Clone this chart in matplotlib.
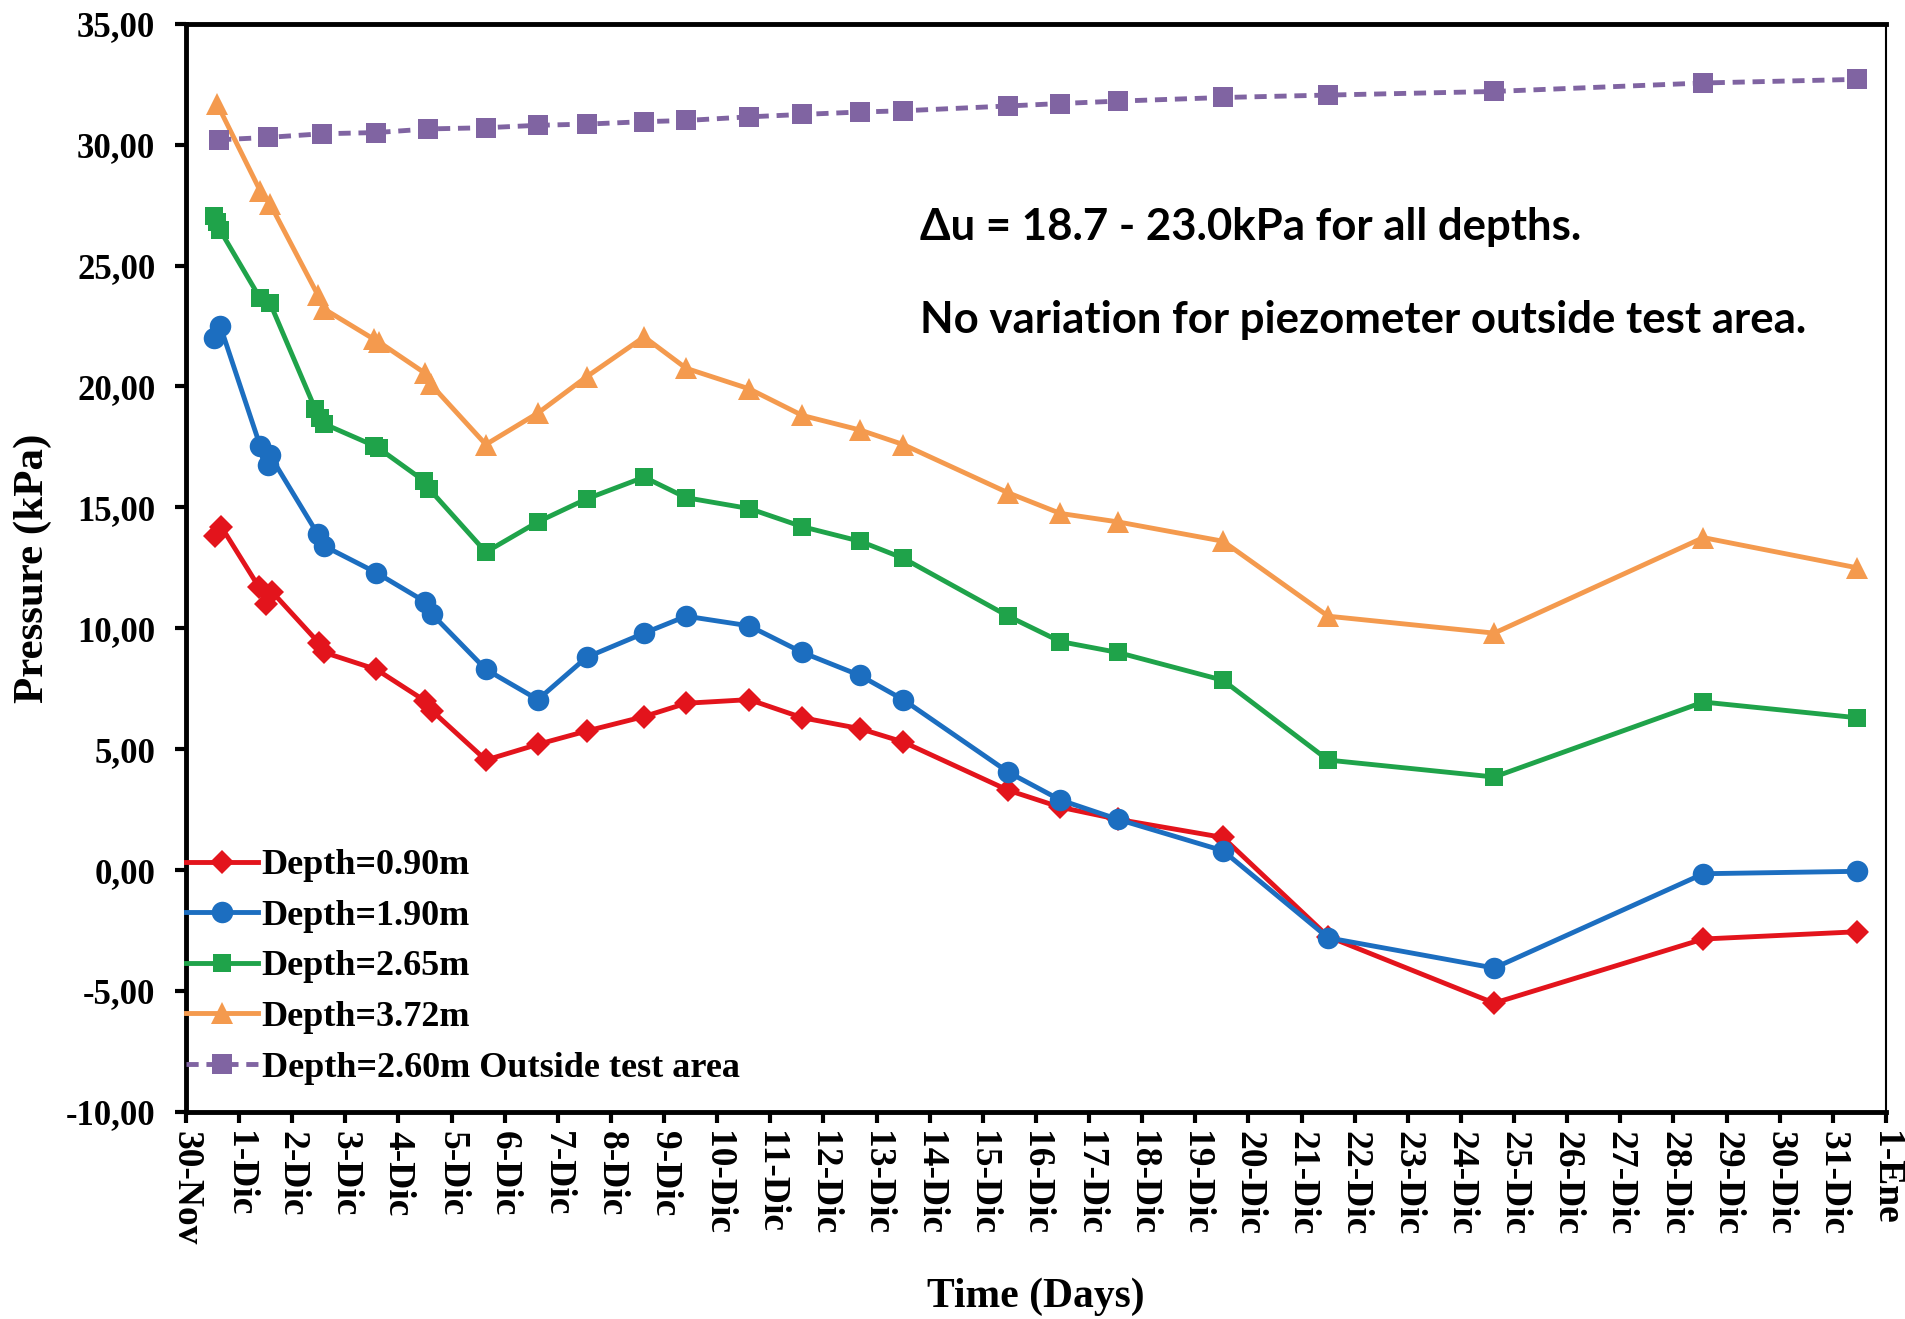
import pandas as pd
import matplotlib
matplotlib.use('Agg')
import matplotlib.pyplot as plt
import matplotlib.dates as md
from matplotlib.ticker import FuncFormatter

# Lecturas comunes a todos los piezometros a partir del 5-Dic
t_cola = ['2013-12-05 15:30', '2013-12-06 15:00', '2013-12-07 13:00', '2013-12-08 15:00',
          '2013-12-09 10:00', '2013-12-10 14:30', '2013-12-11 14:30', '2013-12-12 16:30',
          '2013-12-13 12:00', '2013-12-15 11:30', '2013-12-16 11:00', '2013-12-17 13:00',
          '2013-12-19 12:30', '2013-12-21 12:00', '2013-12-24 15:00', '2013-12-28 13:30',
          '2013-12-31 11:00']

t_090 = ['2013-11-30 13:00', '2013-11-30 16:00', '2013-12-01 09:00', '2013-12-01 12:00',
         '2013-12-01 15:00', '2013-12-02 12:00', '2013-12-02 14:30', '2013-12-03 14:00',
         '2013-12-04 12:00', '2013-12-04 15:00'] + t_cola
p_090 = [13.83, 14.2, 11.7, 11.0, 11.5, 9.4, 9.0, 8.3, 7.0, 6.6,
         4.55, 5.2, 5.75, 6.35, 6.9, 7.05, 6.3, 5.85, 5.3, 3.3, 2.6, 2.1, 1.35, -2.75, -5.5, -2.85, -2.55]

t_190 = ['2013-11-30 12:30', '2013-11-30 15:30', '2013-12-01 09:30', '2013-12-01 13:00',
         '2013-12-01 14:00', '2013-12-02 11:30', '2013-12-02 14:30', '2013-12-03 14:00',
         '2013-12-04 12:00', '2013-12-04 15:00'] + t_cola
p_190 = [22.0, 22.5, 17.55, 16.75, 17.15, 13.9, 13.4, 12.3, 11.1, 10.6,
         8.3, 7.05, 8.8, 9.8, 10.5, 10.1, 9.0, 8.05, 7.05, 4.05, 2.9, 2.1, 0.8, -2.8, -4.05, -0.15, -0.05]

t_265 = ['2013-11-30 12:30', '2013-11-30 14:00', '2013-11-30 15:30', '2013-12-01 09:30',
         '2013-12-01 14:00', '2013-12-02 10:30', '2013-12-02 12:30', '2013-12-02 14:30',
         '2013-12-03 13:00', '2013-12-03 15:00', '2013-12-04 11:30', '2013-12-04 14:00'] + t_cola
p_265 = [27.05, 26.8, 26.45, 23.65, 23.45, 19.05, 18.7, 18.45, 17.55, 17.45, 16.1, 15.75,
         13.15, 14.4, 15.35, 16.25, 15.4, 14.95, 14.2, 13.6, 12.9, 10.5, 9.45, 9.0, 7.85, 4.55, 3.85, 6.95, 6.3]

t_372 = ['2013-11-30 14:00', '2013-12-01 09:30', '2013-12-01 14:00', '2013-12-02 11:30',
         '2013-12-02 14:30', '2013-12-03 13:00', '2013-12-03 15:00', '2013-12-04 12:00',
         '2013-12-04 14:30'] + t_cola
p_372 = [31.7, 28.1, 27.55, 23.8, 23.2, 21.95, 21.85, 20.55, 20.1,
         17.6, 18.9, 20.4, 22.05, 20.75, 19.9, 18.8, 18.2, 17.6, 15.6, 14.75, 14.4, 13.6, 10.5, 9.8, 13.75, 12.5]

# piezometro fuera del area de ensayo
t_ext = ['2013-11-30 15:00', '2013-12-01 13:00', '2013-12-02 13:30', '2013-12-03 14:00',
         '2013-12-04 13:30'] + t_cola
p_ext = [30.2, 30.3, 30.45, 30.5, 30.65,
         30.7, 30.8, 30.85, 30.95, 31.0, 31.15, 31.25, 31.35, 31.4, 31.6, 31.7, 31.8, 31.95, 32.05, 32.2, 32.55, 32.7]

series = [
    (t_090, p_090, 'Depth=0.90m', '#E3141C', 'D', 12, '-'),
    (t_190, p_190, 'Depth=1.90m', '#1C6EC0', 'o', 15.5, '-'),
    (t_265, p_265, 'Depth=2.65m', '#1FA34A', 's', 13.5, '-'),
    (t_372, p_372, 'Depth=3.72m', '#F49A4E', '^', 15.5, '-'),
    (t_ext, p_ext, 'Depth=2.60m Outside test area', '#8064A2', 's', 14, (0, (2.5, 1.6))),
]

meses = {11: 'Nov', 12: 'Dic', 1: 'Ene'}
dias = pd.date_range('2013-11-30', '2014-01-01', freq='D')
etiquetas = ['%d-%s' % (d.day, meses[d.month]) for d in dias]

serif = ['Liberation Serif', 'DejaVu Serif']

fig = plt.figure(figsize=(19.05, 13.19), dpi=100)
ax = fig.add_axes([0.0976, 0.157, 0.8924, 0.825])

for t, p, nombre, color, mk, ms, ls in series:
    ax.plot(pd.to_datetime(t), p, linestyle=ls, color=color, lw=3.5,
            marker=mk, markersize=ms, markeredgewidth=0, label=nombre)

ax.set_xlim(dias[0], dias[-1])
ax.set_ylim(-10, 35)
ax.set_yticks(range(-10, 36, 5))
ax.yaxis.set_major_formatter(FuncFormatter(lambda v, pos: ('%.2f' % v).replace('.', ',')))
ax.set_xticks(dias)
ax.set_xticklabels(etiquetas, rotation=270, ha='center', va='top')

for lab in ax.get_xticklabels():
    lab.set_fontfamily(serif)
    lab.set_fontweight('bold')
    lab.set_fontsize(27)
for lab in ax.get_yticklabels():
    lab.set_fontfamily(serif)
    lab.set_fontweight('bold')
    lab.set_fontsize(25)

ax.tick_params(axis='both', direction='out', length=8, width=3)
ax.tick_params(axis='x', pad=6)
ax.tick_params(axis='y', pad=14)
for s in ['left', 'bottom', 'top']:
    ax.spines[s].set_linewidth(3.5)
ax.spines['right'].set_linewidth(1.5)

ax.set_ylabel('Pressure (kPa)', fontfamily=serif, fontweight='bold', fontsize=31)
ax.yaxis.set_label_coords(-0.079, 0.5)
ax.set_xlabel('Time (Days)', fontfamily=serif, fontweight='bold', fontsize=30)
ax.xaxis.set_label_coords(0.5, -0.152)

ax.text(0.432, 0.813, '\u0394u = 18.7 - 23.0kPa for all depths.', transform=ax.transAxes,
        fontfamily=['Lato', 'DejaVu Sans'], fontweight='bold', fontsize=31.5, va='center')
ax.text(0.432, 0.728, 'No variation for piezometer outside test area.', transform=ax.transAxes,
        fontfamily=['Lato', 'DejaVu Sans'], fontweight='bold', fontsize=31.5, va='center')

leg = ax.legend(loc='lower left', bbox_to_anchor=(0.0, 0.025), frameon=False,
                prop={'family': serif, 'weight': 'bold', 'size': 26},
                handlelength=2.0, handletextpad=0.1, labelspacing=0.48,
                borderpad=0, borderaxespad=0)

fig.savefig('out.png', dpi=100)
